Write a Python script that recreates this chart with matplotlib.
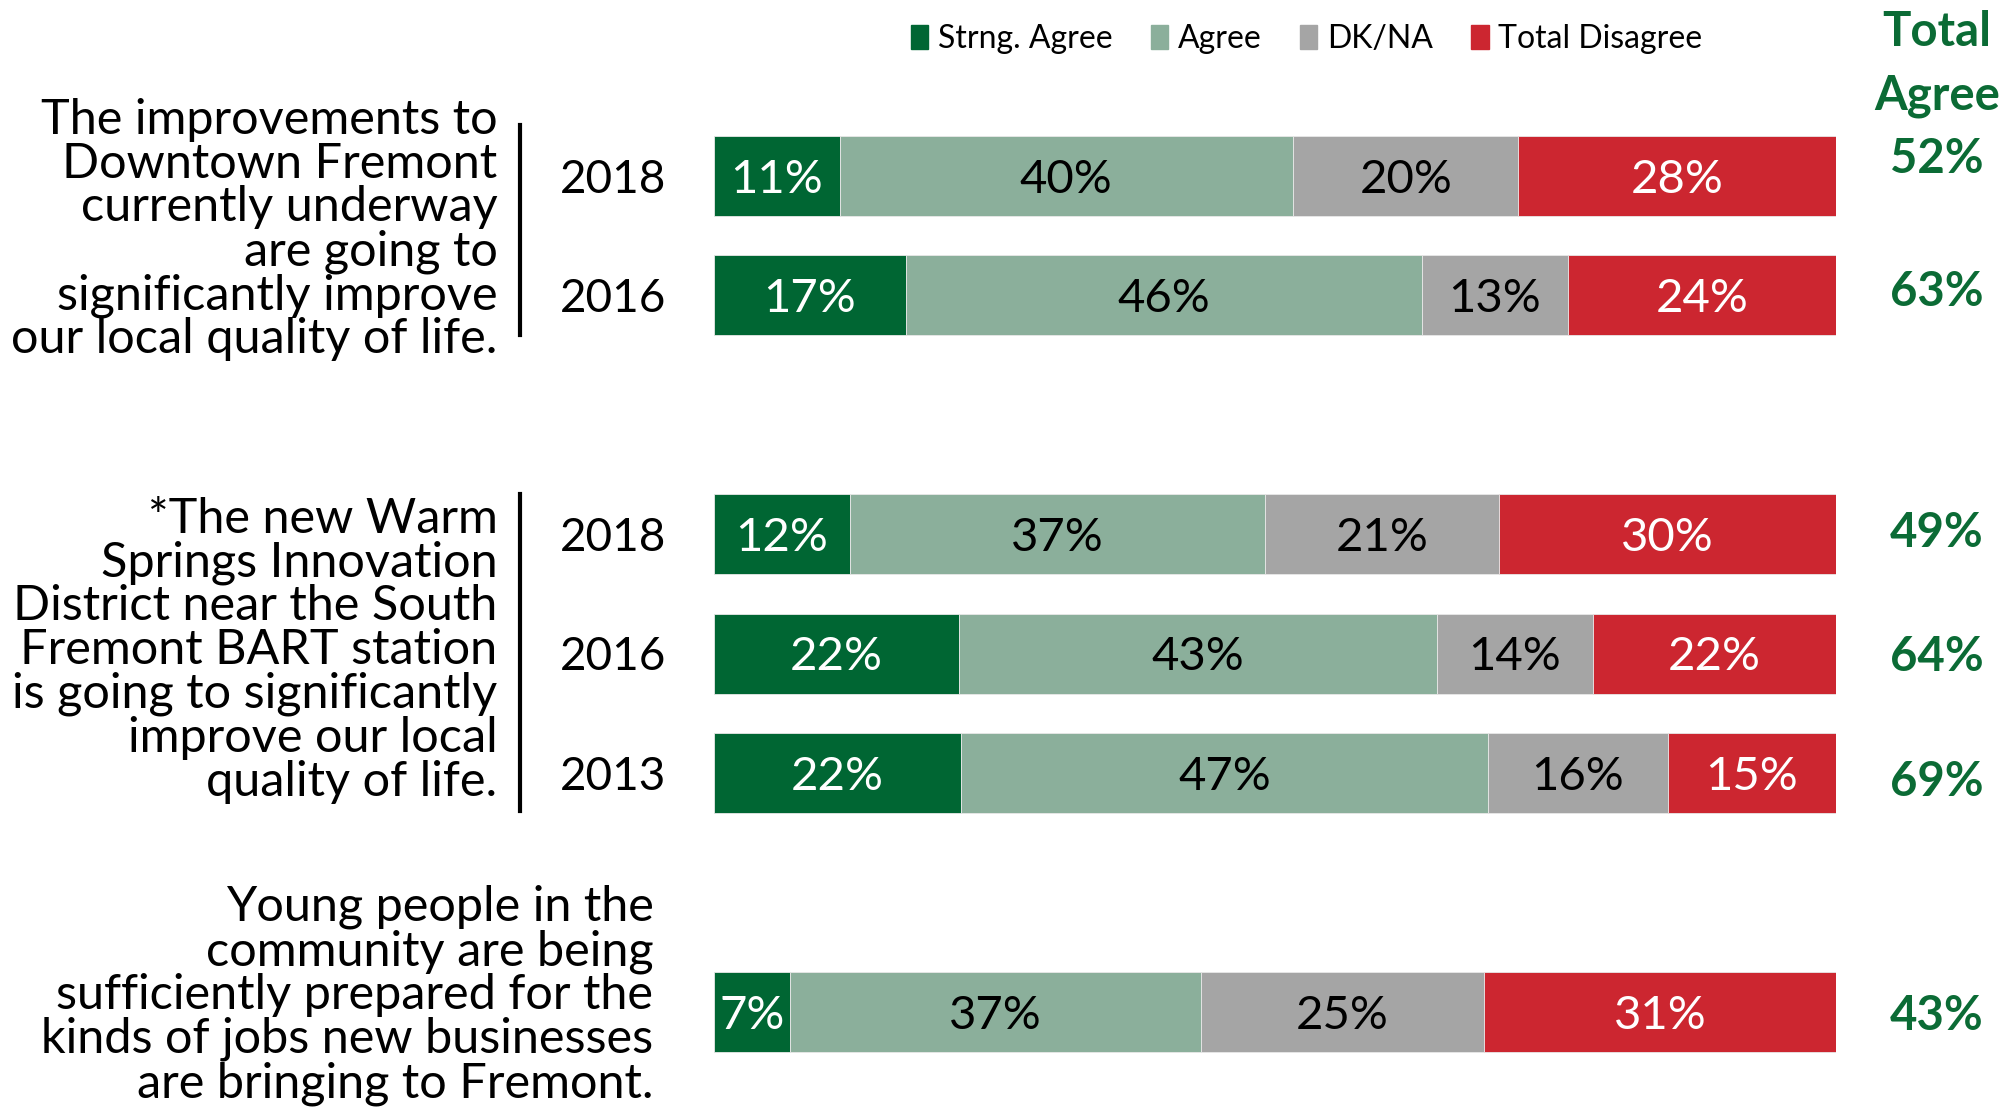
import matplotlib.pyplot as plt
from matplotlib.patches import Patch

plt.rcParams['font.family'] = ['Lato', 'DejaVu Sans']

# data (percent of respondents)
years = ['2018', '2016', '2018', '2016', '2013', '']
strong = [11.2, 17.1, 12.1, 21.8, 22.0, 6.8]
agree = [40.4, 46.0, 37.0, 42.6, 47.0, 36.6]
dkna = [20.1, 13.0, 20.9, 13.9, 16.0, 25.2]
disagree = [28.3, 23.9, 30.0, 21.7, 15.0, 31.4]

categories = ['Strng. Agree', 'Agree', 'DK/NA', 'Total Disagree']
colors = ['#006633', '#8BAF9B', '#A5A5A5', '#CC2630']
text_colors = ['white', 'black', 'black', 'white']

questions = [
    "The improvements to\nDowntown Fremont\ncurrently underway\nare going to\n"
    "significantly improve\nour local quality of life.",
    "*The new Warm\nSprings Innovation\nDistrict near the South\n"
    "Fremont BART station\nis going to significantly\nimprove our local\n"
    "quality of life.",
    "Young people in the\ncommunity are being\nsufficiently prepared for the\n"
    "kinds of jobs new businesses\nare bringing to Fremont.",
]

green = '#0B6B35'
fs = 34
qfs = 35

fig = plt.figure(figsize=[20.07, 11.13], dpi=100)
ax = fig.add_axes([714 / 2007, 0.0371, 1122 / 2007, 0.8584])

# row layout: two groups and a single bar with gaps in between
ypos = [0, 1, 3, 4, 5, 7]
dy = 0.03  # nudge labels down a little, like the original
# the total agree labels are not quite level with their bars in the original
total_dy = [-0.14, -0.03, -0.015, 0.03, 0.07, 0.03]

# plotting
series = [strong, agree, dkna, disagree]
left = [0.0] * len(ypos)
for vals, col, tcol in zip(series, colors, text_colors):
    ax.barh(ypos, vals, left=left, height=0.67, color=col,
            edgecolor='#E8E8E8', linewidth=0.6)
    for y, l, v in zip(ypos, left, vals):
        ax.text(l + v / 2, y + dy, f"{round(v)}%", ha='center', va='center',
                color=tcol, fontsize=fs)
    left = [a + b for a, b in zip(left, vals)]

ax.set_xlim(0, 100)
ax.set_ylim(7.5, -0.5)
ax.axis('off')

# year labels
for y, yr in zip(ypos, years):
    ax.text(-4.3, y + dy, yr, ha='right', va='center', fontsize=33,
            clip_on=False)

# total agree column
for y, off, s, a in zip(ypos, total_dy, strong, agree):
    ax.text(109.0, y + off, f"{round(s + a)}%", ha='center', va='center',
            color=green, fontsize=fs, fontweight='bold', clip_on=False)
fig.text(1937 / 2007, 1 - 64 / 1113, "Total\nAgree", ha='center',
         va='center', color=green, fontsize=fs, fontweight='bold',
         linespacing=1.55)

# question texts and brackets
ax.text(-19.3, 0.45, questions[0], ha='right', va='center', fontsize=qfs,
        linespacing=0.99, clip_on=False)
ax.text(-19.3, 3.97, questions[1], ha='right', va='center', fontsize=qfs,
        linespacing=0.99, clip_on=False)
ax.text(-5.4, 6.86, questions[2], ha='right', va='center', fontsize=qfs,
        linespacing=0.99, clip_on=False)
ax.plot([-17.3, -17.3], [-0.43, 1.33], color='black', lw=3, clip_on=False)
ax.plot([-17.3, -17.3], [2.66, 5.32], color='black', lw=3, clip_on=False)

# legend
handles = [Patch(color=c, label=n) for c, n in zip(colors, categories)]
fig.legend(handles=handles, loc='center', bbox_to_anchor=(0.651, 0.965),
           ncol=4, frameon=False, fontsize=23, handlelength=0.55,
           handleheight=0.8, handletextpad=0.3, columnspacing=1.2)

# save as png
plt.savefig("out.png", dpi=100)
